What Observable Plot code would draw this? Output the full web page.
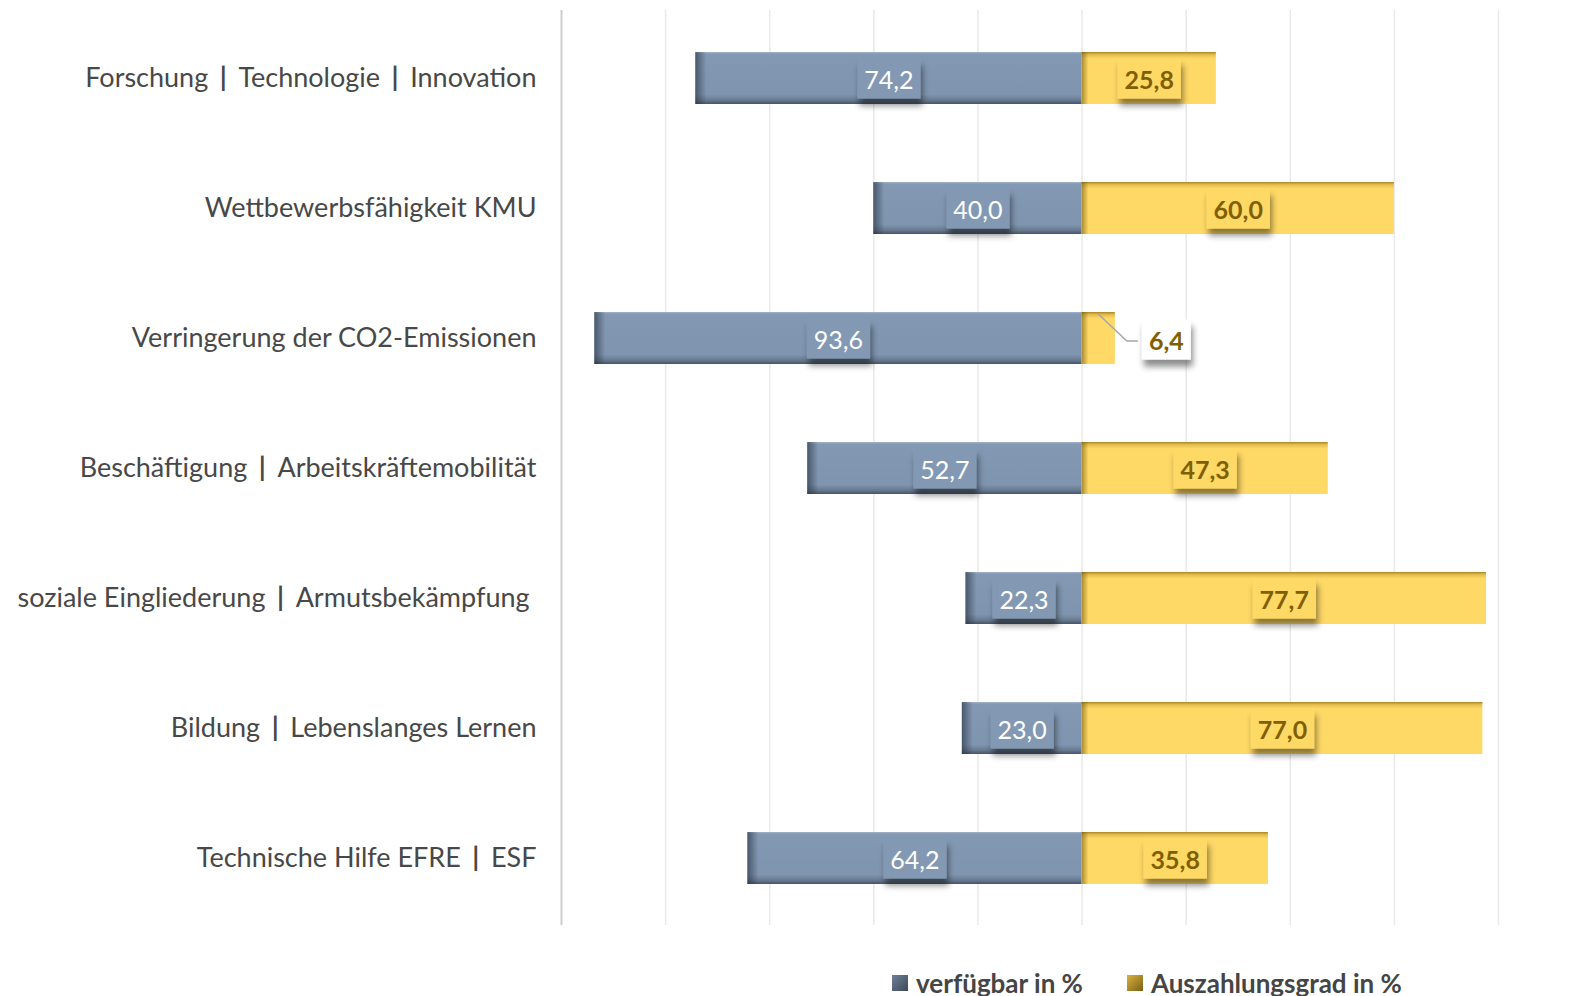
<!DOCTYPE html>
<html>
<head>
<meta charset="utf-8">
<script src="https://cdn.jsdelivr.net/npm/d3@7"></script>
<script src="https://cdn.jsdelivr.net/npm/@observablehq/plot@0.6"></script>
<style>
  html, body { margin: 0; padding: 0; background: #fff; overflow: hidden; }
  body { width: 1582px; height: 996px; position: relative; font-family: Lato, "Open Sans", sans-serif; }
  #legend { position: absolute; left: 892px; top: 968px; display: flex; align-items: center; color: #454545; font-weight: bold; font-size: 26px; line-height: 30px; }
  #legend .item { display: flex; align-items: center; }
  #legend .sw { width: 16px; height: 16px; margin-right: 8px; }
</style>
</head>
<body>
<div id="chart"></div>
<div id="legend"></div>
<script>
const categories = [
  "Forschung | Technologie | Innovation",
  "Wettbewerbsfähigkeit KMU",
  "Verringerung der CO2-Emissionen",
  "Beschäftigung | Arbeitskräftemobilität",
  "soziale Eingliederung | Armutsbekämpfung\u00a0",
  "Bildung | Lebenslanges Lernen",
  "Technische Hilfe EFRE | ESF"
];
const verfuegbar = [74.2, 40.0, 93.6, 52.7, 22.3, 23.0, 64.2];
const auszahlung = [25.8, 60.0, 6.4, 47.3, 77.7, 77.0, 35.8];
const xTicks = [-100, -80, -60, -40, -20, 0, 20, 40, 60, 80];
const seriesNames = ["verfügbar in %", "Auszahlungsgrad in %"];

const rows = categories.map((c, i) => ({cat: c, v: verfuegbar[i], a: auszahlung[i]}));
const fmt = n => n.toFixed(1).replace(".", ",");

const BLUE = "#8097b1", YELLOW = "#ffd966", OLIVE = "#7f6000";

const chart = Plot.plot({
  width: 1582,
  height: 950,
  marginLeft: 561,
  marginRight: 84,
  marginTop: 10,
  marginBottom: 25,
  style: {fontFamily: "Lato, 'Open Sans', sans-serif", color: "#484848", background: "#fff"},
  x: {domain: [-100, 80], axis: null},
  y: {domain: categories, paddingInner: 0.6, paddingOuter: 0.3, label: null},
  marks: [
    Plot.ruleX(xTicks.slice(1), {stroke: "#e9e9e9", strokeWidth: 1.5}),
    Plot.ruleX(xTicks.slice(0, 1), {stroke: "#cdcdcd", strokeWidth: 2}),
    Plot.barX(rows, {y: "cat", x1: d => -d.v, x2: 0, fill: BLUE}),
    Plot.barX(rows, {y: "cat", x1: 0, x2: d => d.a, fill: YELLOW}),
    Plot.axisY({tickSize: 0, tickPadding: 25, fontSize: 27, fill: "#484848", label: null}),
    Plot.text(rows, {y: "cat", x: d => -d.v / 2, text: d => fmt(d.v), fill: "#fff", fontSize: 25, dy: 2}),
    Plot.text(rows.filter(d => d.a >= 10), {y: "cat", x: d => d.a / 2, text: d => fmt(d.a), fill: OLIVE, fontSize: 25, fontWeight: "bold", dy: 2}),
    Plot.text(rows.filter(d => d.a < 10), {y: "cat", x: d => d.a, text: d => fmt(d.a), fill: OLIVE, fontSize: 25, fontWeight: "bold", dx: 51, dy: 3})
  ]
});
document.getElementById("chart").appendChild(chart);

const ns = "http://www.w3.org/2000/svg";
const svg = d3.select(chart);
const defs = svg.insert("defs", ":first-child");
const gB = defs.append("linearGradient").attr("id", "gBlue").attr("x1", 0).attr("y1", 0).attr("x2", 0).attr("y2", 1);
[[0, "#a3b3c7"], [0.04, "#8399b3"], [0.82, "#7f95af"], [0.93, "#67798f"], [1, "#475467"]].forEach(([o, c]) => gB.append("stop").attr("offset", o).attr("stop-color", c));
const gY = defs.append("linearGradient").attr("id", "gYellow").attr("x1", 0).attr("y1", 0).attr("x2", 0).attr("y2", 1);
[[0, "#a88620"], [0.05, "#e3bc4f"], [0.13, "#ffd966"], [1, "#ffd966"]].forEach(([o, c]) => gY.append("stop").attr("offset", o).attr("stop-color", c));
const gL = defs.append("linearGradient").attr("id", "gLeft").attr("x1", 0).attr("y1", 0).attr("x2", 1).attr("y2", 0);
[[0, "rgba(35,45,60,0.6)"], [1, "rgba(35,45,60,0)"]].forEach(([o, c]) => gL.append("stop").attr("offset", o).attr("stop-color", c));
const gLY = defs.append("linearGradient").attr("id", "gLeftY").attr("x1", 0).attr("y1", 0).attr("x2", 1).attr("y2", 0);
[[0, "rgba(110,85,10,0.6)"], [1, "rgba(110,85,10,0)"]].forEach(([o, c]) => gLY.append("stop").attr("offset", o).attr("stop-color", c));
const f = defs.append("filter").attr("id", "shadow").attr("x", "-30%").attr("y", "-30%").attr("width", "160%").attr("height", "190%");
f.append("feDropShadow").attr("dx", 2).attr("dy", 7).attr("stdDeviation", 3).attr("flood-color", "#000").attr("flood-opacity", 0.45);

// bar bevels
svg.selectAll("g[aria-label='bar']").each(function() {
  const g = d3.select(this);
  const fill = (g.attr("fill") || "").toLowerCase();
  const isBlue = fill === BLUE;
  if (!isBlue && fill !== YELLOW) return;
  g.attr("fill", isBlue ? "url(#gBlue)" : "url(#gYellow)");
  g.selectAll("rect").nodes().forEach(node => {
    const x = +node.getAttribute("x"), y = +node.getAttribute("y"), h = +node.getAttribute("height");
    g.append("rect").attr("x", x).attr("y", y).attr("width", isBlue ? 11 : 7).attr("height", h)
      .attr("fill", isBlue ? "url(#gLeft)" : "url(#gLeftY)");
  });
});

// label boxes with shadows
const textGroups = svg.selectAll("g[aria-label='text']").nodes();
const boxFills = ["#8399b3", YELLOW, "#ffffff"];
textGroups.forEach((g, gi) => {
  d3.select(g).selectAll("text").nodes().forEach(t => {
    const bb = t.getBBox();
    const padX = 7, h = 40;
    const cy = bb.y + bb.height / 2;
    const r = document.createElementNS(ns, "rect");
    g.insertBefore(r, t);
    d3.select(r)
      .attr("transform", t.getAttribute("transform"))
      .attr("x", bb.x - padX).attr("y", cy - h / 2)
      .attr("width", bb.width + 2 * padX).attr("height", h)
      .attr("fill", boxFills[gi]).attr("filter", "url(#shadow)");
  });
});

// pipes in tick labels: slightly heavier with extra spacing
svg.selectAll("g[aria-label='y-axis tick label'] text").each(function() {
  const s = this.textContent;
  if (!s.includes("|")) return;
  const parts = s.split(" | ");
  const sel = d3.select(this);
  sel.text(null);
  parts.forEach((p, i) => {
    if (i > 0) {
      sel.append("tspan").attr("dx", 5).attr("font-weight", "bold").text(" | ");
      sel.append("tspan").attr("dx", 5).text(p);
    } else {
      sel.append("tspan").text(p);
    }
  });
});

// leader line for the small outside label
const xs = chart.scale("x"), ys = chart.scale("y");
rows.filter(d => d.a < 10).forEach(d => {
  const x0 = xs.apply(d.a / 2), yTop = ys.apply(d.cat) + 2;
  const yMid = ys.apply(d.cat) + ys.bandwidth / 2 + 3;
  const xEnd = xs.apply(d.a) + 23;
  svg.append("path")
    .attr("d", `M${x0},${yTop}L${xEnd - 11},${yMid}L${xEnd},${yMid}`)
    .attr("fill", "none").attr("stroke", "#a6a6a6").attr("stroke-width", 1.5);
});

// legend
const legend = d3.select("#legend");
const swatches = [
  "linear-gradient(135deg, #6d7f98, #3e4a5a)",
  "linear-gradient(135deg, #d9b340, #7a5f12)"
];
seriesNames.forEach((name, i) => {
  const it = legend.append("div").attr("class", "item").style("margin-right", i === 0 ? "44px" : "0");
  it.append("div").attr("class", "sw").style("background", swatches[i]);
  it.append("span").text(name);
});
</script>
</body>
</html>
